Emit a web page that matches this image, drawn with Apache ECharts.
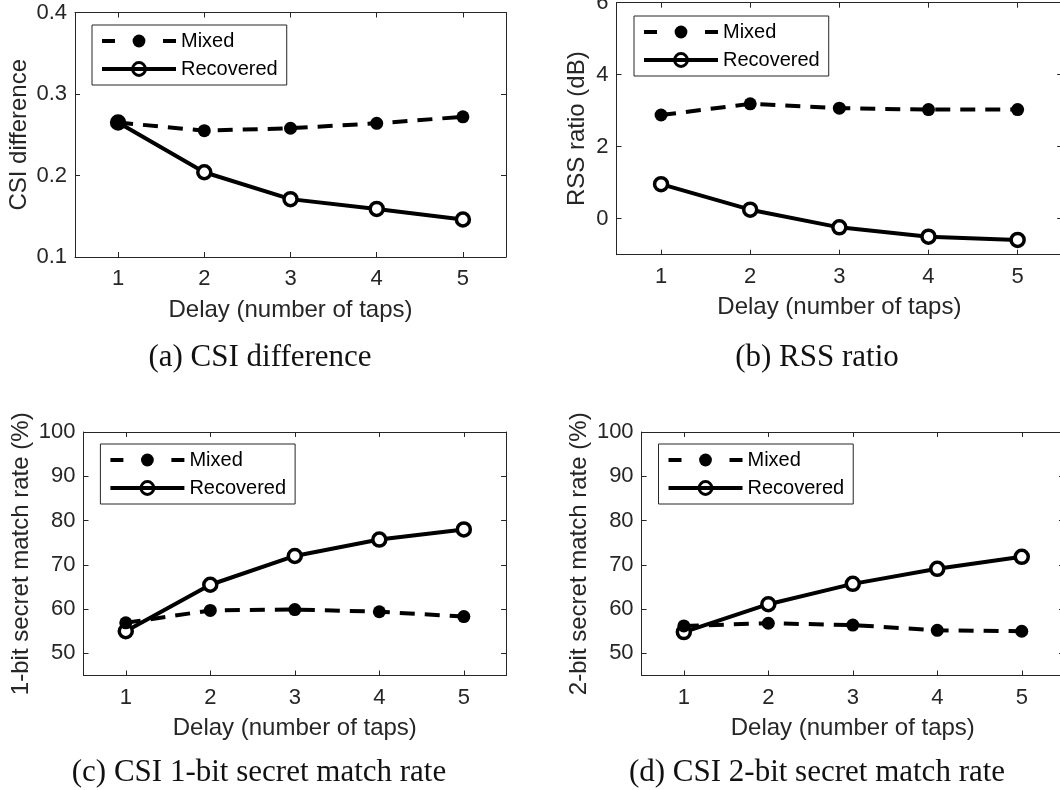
<!DOCTYPE html>
<html>
<head>
<meta charset="utf-8">
<script src="https://cdn.jsdelivr.net/npm/echarts@6/dist/echarts.min.js"></script>
<style>
  html, body { margin: 0; padding: 0; background: #fff; }
  #chart { width: 1060px; height: 790px; }
</style>
</head>
<body>
<div id="chart"></div>
<script>
// Delay in number of taps (x axis of every panel)
const delays = ['1', '2', '3', '4', '5'];

// (a) CSI difference
const csiMixed     = [0.265, 0.255, 0.258, 0.264, 0.272];
const csiRecovered = [0.265, 0.204, 0.171, 0.159, 0.146];
const csiTicks     = [0.1, 0.2, 0.3, 0.4];

// (b) RSS ratio (dB)
const rssMixed     = [2.88, 3.19, 3.07, 3.03, 3.03];
const rssRecovered = [0.96, 0.25, -0.24, -0.50, -0.59];
const rssTicks     = [0, 2, 4, 6];

// (c) CSI 1-bit secret match rate (%)
const bit1Mixed     = [56.9, 59.7, 59.9, 59.4, 58.3];
const bit1Recovered = [55.0, 65.5, 72.0, 75.7, 78.0];

// (d) CSI 2-bit secret match rate (%)
const bit2Mixed     = [56.2, 56.8, 56.4, 55.2, 55.0];
const bit2Recovered = [54.8, 61.1, 65.7, 69.1, 71.8];
const rateTicks     = [50, 60, 70, 80, 90, 100];

const seriesNames = ['Mixed', 'Recovered'];
const xTitle = 'Delay (number of taps)';

const SANS = '"Liberation Sans", Arial, Helvetica, sans-serif';
const SERIF = '"Liberation Serif", "Times New Roman", serif';
const AX = '#262626';

const panels = [
  { grid: { left: 75, top: 12.5, width: 431, height: 244.5 },
    yName: 'CSI difference', yNameGap: 44, min: 0.1, max: 0.4, ticks: csiTicks,
    fmt: v => v.toFixed(1), mixed: csiMixed, rec: csiRecovered,
    legend: { left: 92, top: 25 },
    caption: { text: '(a) CSI difference', x: 260, y: 358 } },
  { grid: { left: 616.5, top: 2.7, width: 445.7, height: 252 },
    yName: 'RSS ratio (dB)', yNameGap: 27, min: -1, max: 6, ticks: rssTicks,
    fmt: v => String(v), mixed: rssMixed, rec: rssRecovered,
    legend: { left: 634, top: 16 },
    caption: { text: '(b) RSS ratio', x: 817, y: 358 } },
  { grid: { left: 83.5, top: 432, width: 422.6, height: 243.5 },
    yName: '1-bit secret match rate (%)', yNameGap: 50, min: 45, max: 100, ticks: rateTicks,
    fmt: v => String(v), mixed: bit1Mixed, rec: bit1Recovered,
    legend: { left: 100.4, top: 444 },
    caption: { text: '(c) CSI 1-bit secret match rate', x: 259, y: 773 } },
  { grid: { left: 641.6, top: 432, width: 422.4, height: 243.5 },
    yName: '2-bit secret match rate (%)', yNameGap: 50, min: 45, max: 100, ticks: rateTicks,
    fmt: v => String(v), mixed: bit2Mixed, rec: bit2Recovered,
    legend: { left: 658.5, top: 444 },
    caption: { text: '(d) CSI 2-bit secret match rate', x: 817, y: 773 } }
];

const option = {
  backgroundColor: '#fff',
  animation: false,
  grid: [], xAxis: [], yAxis: [], series: [], legend: [], graphic: []
};

const axisLine = { show: true, onZero: false, lineStyle: { color: AX, width: 1 } };
const tickStyle = { show: true, inside: true, length: 5, lineStyle: { color: AX, width: 1 } };

panels.forEach((p, i) => {
  option.grid.push(Object.assign({ containLabel: false, outerBoundsMode: 'none' }, p.grid));

  // bottom x axis with labels, plus a mirrored top axis for the box
  option.xAxis.push({
    gridIndex: i, type: 'category', data: delays, position: 'bottom', boundaryGap: true,
    axisLine: axisLine,
    axisTick: Object.assign({ alignWithLabel: true }, tickStyle),
    axisLabel: { margin: 11, fontSize: 22, color: AX, fontFamily: SANS },
    splitLine: { show: false },
    name: xTitle, nameLocation: 'middle', nameGap: 41,
    nameTextStyle: { fontSize: 24, color: AX, fontFamily: SANS }
  });
  option.xAxis.push({
    gridIndex: i, type: 'category', data: delays, position: 'top', boundaryGap: true,
    axisLine: axisLine,
    axisTick: Object.assign({ alignWithLabel: true }, tickStyle),
    axisLabel: { show: false }, splitLine: { show: false }
  });

  // left y axis with labels, plus a mirrored right axis
  option.yAxis.push({
    gridIndex: i, type: 'value', position: 'left', min: p.min, max: p.max,
    axisLine: axisLine,
    axisTick: Object.assign({ customValues: p.ticks }, tickStyle),
    axisLabel: { customValues: p.ticks, formatter: p.fmt, margin: 8, fontSize: 22, color: AX, fontFamily: SANS },
    splitLine: { show: false },
    name: p.yName, nameLocation: 'middle', nameRotate: 90, nameGap: p.yNameGap,
    nameTextStyle: { fontSize: 24, color: AX, fontFamily: SANS }
  });
  option.yAxis.push({
    gridIndex: i, type: 'value', position: 'right', min: p.min, max: p.max,
    axisLine: axisLine,
    axisTick: Object.assign({ customValues: p.ticks }, tickStyle),
    axisLabel: { show: false }, splitLine: { show: false }
  });

  option.series.push({
    name: seriesNames[1], type: 'line', xAxisIndex: 2 * i, yAxisIndex: 2 * i, z: 2,
    data: p.rec, symbol: 'circle', symbolSize: 13,
    itemStyle: { color: '#fff', borderColor: '#000', borderWidth: 3.5 },
    lineStyle: { color: '#000', width: 4, type: 'solid' },
    emphasis: { disabled: true }
  });
  option.series.push({
    name: seriesNames[0], type: 'line', xAxisIndex: 2 * i, yAxisIndex: 2 * i, z: 3,
    data: p.mixed, symbol: 'circle', symbolSize: 13,
    itemStyle: { color: '#000', borderWidth: 0 },
    lineStyle: { color: '#000', width: 4, type: [15, 10] },
    emphasis: { disabled: true }
  });

  option.legend.push({
    left: p.legend.left, top: p.legend.top, orient: 'vertical',
    padding: [6, 9, 6, 8], itemGap: 8, itemWidth: 74, itemHeight: 16,
    borderColor: AX, borderWidth: 1, backgroundColor: '#fff',
    selectedMode: false,
    textStyle: { fontSize: 20, color: '#000', fontFamily: SANS },
    data: [
      { name: seriesNames[0],
        lineStyle: { type: [13, 48], width: 4, color: '#000' },
        itemStyle: { color: '#000', borderWidth: 0 } },
      { name: seriesNames[1],
        lineStyle: { type: 'solid', width: 4, color: '#000' },
        itemStyle: { color: 'rgba(0,0,0,0)', borderColor: '#000', borderWidth: 3 } }
    ]
  });

  option.graphic.push({
    type: 'text', x: p.caption.x, y: p.caption.y, silent: true,
    style: {
      text: p.caption.text, fill: '#111', font: '31px ' + SERIF,
      align: 'center', verticalAlign: 'middle',
      textAlign: 'center', textVerticalAlign: 'middle'
    }
  });
});

const chart = echarts.init(document.getElementById('chart'), null, { renderer: 'canvas' });
chart.setOption(option);
</script>
</body>
</html>
